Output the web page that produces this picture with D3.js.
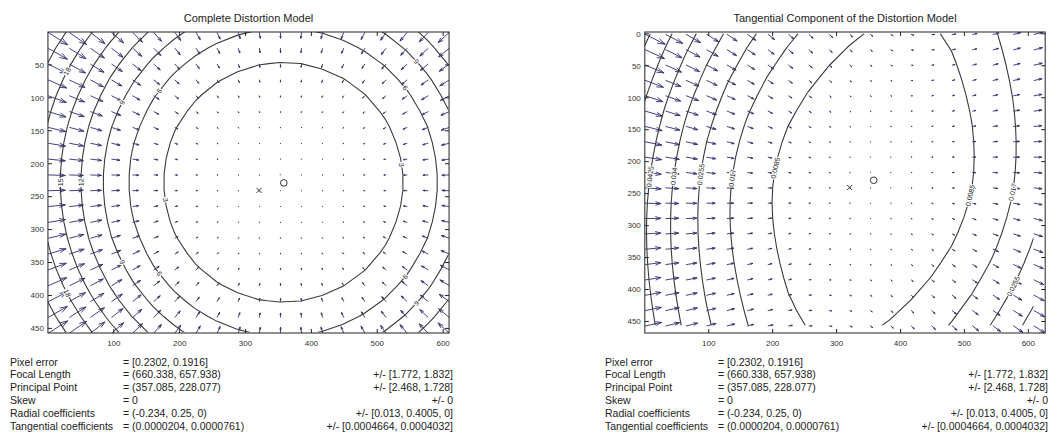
<!DOCTYPE html>
<html>
<head>
<meta charset="utf-8">
<script src="https://cdn.jsdelivr.net/npm/d3@7"></script>
<style>
  body { margin: 0; background: #fff; }
  svg { display: block; }
  text { font-family: "Liberation Sans", Arial, Helvetica, sans-serif; }
</style>
</head>
<body>
<svg id="chart" width="1064" height="435"></svg>
<script>
// ---- calibration results (pixels) ----
const imageSize = [640, 480];
const pixelError = [0.2302, 0.1916];
const focalLength = [660.338, 657.938];
const focalLengthErr = [1.772, 1.832];
const principalPoint = [357.085, 228.077];
const principalPointErr = [2.468, 1.728];
const skew = 0;
const skewErr = 0;
const radialCoeffs = [-0.234, 0.25, 0];
const radialErr = [0.013, 0.4005, 0];
const tangentialCoeffs = [0.0000204, 0.0000761];
const tangentialErr = [0.0004664, 0.0004032];

// ---- contour levels (pixels of displacement) ----
const levelsComplete = [3, 6, 9, 12, 15, 18, 21];
const levelsTangential = [0.0085, 0.017, 0.0255, 0.034, 0.0425, 0.051, 0.0595];

// ---- axes ----
const xTicks = [100, 200, 300, 400, 500, 600];
const yTicksComplete = [50, 100, 150, 200, 250, 300, 350, 400, 450];
const yTicksTangential = [0, 50, 100, 150, 200, 250, 300, 350, 400, 450];
const panelTitles = ["Complete Distortion Model", "Tangential Component of the Distortion Model"];
const infoLabels = ["Pixel error", "Focal Length", "Principal Point", "Skew", "Radial coefficients", "Tangential coefficients"];

const svg = d3.select("#chart");
const arrowColor = "#2e2e6e";
const lineColor = "#3a3a3a";

// sampling grid: 20 x 20 points over the image
const nSteps = 20;
const step = [imageSize[0] / nSteps, imageSize[1] / nSteps];
const gx = d3.range(nSteps).map(i => i * step[0]);
const gy = d3.range(nSteps).map(j => j * step[1]);

// pixel displacement produced by the lens model at image point (u, v)
function displacement(u, v, withRadial) {
  const [fx, fy] = focalLength, [cx, cy] = principalPoint;
  const yn = (v - cy) / fy;
  const xn = (u - cx) / fx - skew * yn;
  const r2 = xn * xn + yn * yn;
  const [k1, k2, k3] = radialCoeffs;
  const [p1, p2] = tangentialCoeffs;
  const rad = withRadial ? k1 * r2 + k2 * r2 * r2 + k3 * r2 * r2 * r2 : 0;
  const dx = xn * rad + 2 * p1 * xn * yn + p2 * (r2 + 2 * xn * xn);
  const dy = yn * rad + p1 * (r2 + 2 * yn * yn) + 2 * p2 * xn * yn;
  return [fx * (dx + skew * dy), fy * dy];
}

const fmtErr = v => "[" + v.join(", ") + "]";
const infoValues = [
  "= [" + pixelError.join(", ") + "]",
  "= (" + focalLength.join(", ") + ")",
  "= (" + principalPoint.join(", ") + ")",
  "= " + skew,
  "= (" + radialCoeffs.join(", ") + ")",
  "= (" + tangentialCoeffs.map(v => v.toFixed(7)).join(", ") + ")"
];
const infoErrors = [
  "",
  "+/- " + fmtErr(focalLengthErr),
  "+/- " + fmtErr(principalPointErr),
  "+/- " + skewErr,
  "+/- " + fmtErr(radialErr),
  "+/- [" + tangentialErr.map(v => v.toFixed(7)).join(", ") + "]"
];

const panels = [
  { title: panelTitles[0], withRadial: true,  levels: levelsComplete,   cx: 248.5, yTicks: yTicksComplete,   textX: 10 },
  { title: panelTitles[1], withRadial: false, levels: levelsTangential, cx: 845,   yTicks: yTicksTangential, textX: 605 }
];

const plotTop = 32, plotH = 301;

panels.forEach((p, pi) => {
  // field on the grid
  const cells = [];
  const mags = [];
  gy.forEach(v => gx.forEach(u => {
    const d = displacement(u, v, p.withRadial);
    cells.push({ u, v, dx: d[0], dy: d[1] });
    mags.push(Math.hypot(d[0], d[1]));
  }));
  const zMax = d3.max(mags);

  // quiver auto-scaling: longest arrow spans 0.9 of the cell diagonal
  const delx = (gx[nSteps - 1] - gx[0]) / nSteps, dely = (gy[nSteps - 1] - gy[0]) / nSteps;
  const k = 0.9 * Math.sqrt(delx * delx + dely * dely) / zMax;
  const alpha = 0.33, beta = 0.33;
  const arrows = cells.map(c => {
    const x = c.u + 1, y = c.v + 1, du = c.dx * k, dv = c.dy * k;
    const tx = x + du, ty = y + dv;
    return {
      x, y, tx, ty,
      h1: [tx - alpha * (du + beta * dv), ty - alpha * (dv - beta * du)],
      h2: [tx - alpha * (du - beta * dv), ty - alpha * (dv + beta * du)]
    };
  });

  // tight data limits
  const xs = [gx[0], gx[nSteps - 1]], ys = [gy[0], gy[nSteps - 1]];
  arrows.forEach(a => { xs.push(a.x, a.tx, a.h1[0], a.h2[0]); ys.push(a.y, a.ty, a.h1[1], a.h2[1]); });
  const [xMin, xMax] = d3.extent(xs), [yMin, yMax] = d3.extent(ys);
  const ppu = plotH / (yMax - yMin);
  const plotW = ppu * (xMax - xMin);
  const x0 = p.cx - plotW / 2;

  const x = d3.scaleLinear().domain([xMin, xMax]).range([x0, x0 + plotW]);
  const y = d3.scaleLinear().domain([yMin, yMax]).range([plotTop, plotTop + plotH]);

  const g = svg.append("g");
  const clipId = "hull" + pi;
  g.append("clipPath").attr("id", clipId).append("rect")
    .attr("x", x(gx[0])).attr("y", y(gy[0]))
    .attr("width", x(gx[nSteps - 1]) - x(gx[0])).attr("height", y(gy[nSteps - 1]) - y(gy[0]));
  const plotClip = "plot" + pi;
  g.append("clipPath").attr("id", plotClip).append("rect")
    .attr("x", x0).attr("y", plotTop).attr("width", plotW).attr("height", plotH);

  // arrows
  const arrowPath = d3.path();
  arrows.forEach(a => {
    arrowPath.moveTo(x(a.x), y(a.y)); arrowPath.lineTo(x(a.tx), y(a.ty));
    arrowPath.moveTo(x(a.h1[0]), y(a.h1[1])); arrowPath.lineTo(x(a.tx), y(a.ty));
    arrowPath.lineTo(x(a.h2[0]), y(a.h2[1]));
  });
  g.append("path").attr("d", arrowPath.toString())
    .attr("fill", "none").attr("stroke", arrowColor).attr("stroke-width", 0.9)
    .attr("stroke-linecap", "round").attr("stroke-linejoin", "round")
    .attr("clip-path", `url(#${plotClip})`);

  // contour lines
  const contours = d3.contours().size([nSteps, nSteps]).thresholds(p.levels)(mags);
  const gridToX = c => gx[0] + (c - 0.5) * step[0];
  const gridToY = c => gy[0] + (c - 0.5) * step[1];
  const line = d3.line().x(d => x(gridToX(d[0]))).y(d => y(gridToY(d[1])));

  const cg = g.append("g").attr("clip-path", `url(#${clipId})`);
  const labelFmt = d3.format(".4~g");
  const labels = [];
  contours.forEach(mp => {
    mp.coordinates.forEach(poly => poly.forEach(ring => {
      cg.append("path").attr("d", line(ring) + "Z")
        .attr("fill", "none").attr("stroke", lineColor).attr("stroke-width", 1.1);
      // visible runs for label placement
      const pts = ring.map(d => [x(gridToX(d[0])), y(gridToY(d[1]))]);
      const inside = ring.map(d => d[0] > 0.55 && d[0] < nSteps - 0.55 && d[1] > 0.55 && d[1] < nSteps - 0.55);
      const start = inside.indexOf(false);
      const n = pts.length;
      const order = start < 0 ? d3.range(n) : d3.range(n).map(i => (start + i) % n);
      let run = [];
      const flush = () => {
        if (run.length > 2) {
          let len = 0; const cum = [0];
          for (let i = 1; i < run.length; i++) { len += Math.hypot(run[i][0] - run[i - 1][0], run[i][1] - run[i - 1][1]); cum.push(len); }
          const spots = len > 330 ? [len * 0.25, len * 0.75] : (len > 60 ? [len * 0.5] : []);
          spots.forEach(s => {
            let i = cum.findIndex(c => c >= s); if (i < 1) i = 1;
            const a = run[i - 1], b = run[i];
            const t = (s - cum[i - 1]) / Math.max(1e-9, cum[i] - cum[i - 1]);
            let ang = Math.atan2(b[1] - a[1], b[0] - a[0]) * 180 / Math.PI;
            if (ang > 90) ang -= 180; if (ang < -90) ang += 180;
            labels.push({ x: a[0] + t * (b[0] - a[0]), y: a[1] + t * (b[1] - a[1]), ang, text: labelFmt(mp.value) });
          });
        }
        run = [];
      };
      order.forEach(i => { if (inside[i]) run.push(pts[i]); else flush(); });
      flush();
    }));
  });
  g.selectAll("text.clabel").data(labels).join("text").attr("class", "clabel")
    .attr("transform", d => `translate(${d.x},${d.y}) rotate(${d.ang})`)
    .attr("text-anchor", "middle").attr("dy", "0.35em")
    .attr("font-size", 7).attr("fill", "#222")
    .attr("stroke", "#fff").attr("stroke-width", 2.2).attr("paint-order", "stroke")
    .text(d => d.text);

  // principal point and image centre
  g.append("circle").attr("cx", x(principalPoint[0] + 1)).attr("cy", y(principalPoint[1] + 1))
    .attr("r", 3.3).attr("fill", "none").attr("stroke", "#333").attr("stroke-width", 1);
  const icx = x((imageSize[0] - 1) / 2 + 1), icy = y((imageSize[1] - 1) / 2 + 1);
  g.append("path").attr("d", `M${icx - 2.5},${icy - 2.5}L${icx + 2.5},${icy + 2.5}M${icx - 2.5},${icy + 2.5}L${icx + 2.5},${icy - 2.5}`)
    .attr("stroke", "#333").attr("stroke-width", 1);

  // axes box and ticks
  g.append("rect").attr("x", x0).attr("y", plotTop).attr("width", plotW).attr("height", plotH)
    .attr("fill", "none").attr("stroke", "#222").attr("stroke-width", 1);
  const tl = 4;
  const tickPath = d3.path();
  xTicks.forEach(t => {
    const px = x(t);
    tickPath.moveTo(px, plotTop + plotH); tickPath.lineTo(px, plotTop + plotH - tl);
    tickPath.moveTo(px, plotTop); tickPath.lineTo(px, plotTop + tl);
  });
  p.yTicks.forEach(t => {
    const py = y(t);
    tickPath.moveTo(x0, py); tickPath.lineTo(x0 + tl, py);
    tickPath.moveTo(x0 + plotW, py); tickPath.lineTo(x0 + plotW - tl, py);
  });
  g.append("path").attr("d", tickPath.toString()).attr("stroke", "#222").attr("stroke-width", 1);

  g.selectAll("text.xt").data(xTicks).join("text").attr("class", "xt")
    .attr("x", d => x(d)).attr("y", plotTop + plotH + 13)
    .attr("text-anchor", "middle").attr("font-size", 8).attr("fill", "#333").text(d => d);
  g.selectAll("text.yt").data(p.yTicks).join("text").attr("class", "yt")
    .attr("x", x0 - 4).attr("y", d => y(d)).attr("dy", "0.35em")
    .attr("text-anchor", "end").attr("font-size", 8).attr("fill", "#333").text(d => d);

  // title
  g.append("text").attr("x", x0 + plotW / 2).attr("y", 22)
    .attr("text-anchor", "middle").attr("font-size", 11).attr("fill", "#222").text(p.title);

  // parameter summary
  const tg = g.append("g").attr("font-size", 10.5).attr("fill", "#222");
  infoLabels.forEach((lab, i) => {
    const by = 365.5 + i * 12.9;
    tg.append("text").attr("x", p.textX).attr("y", by).text(lab);
    tg.append("text").attr("x", p.textX + 113).attr("y", by).text(infoValues[i]);
    if (infoErrors[i]) tg.append("text").attr("x", p.textX + 443).attr("y", by)
      .attr("text-anchor", "end").text(infoErrors[i]);
  });
});
</script>
</body>
</html>
